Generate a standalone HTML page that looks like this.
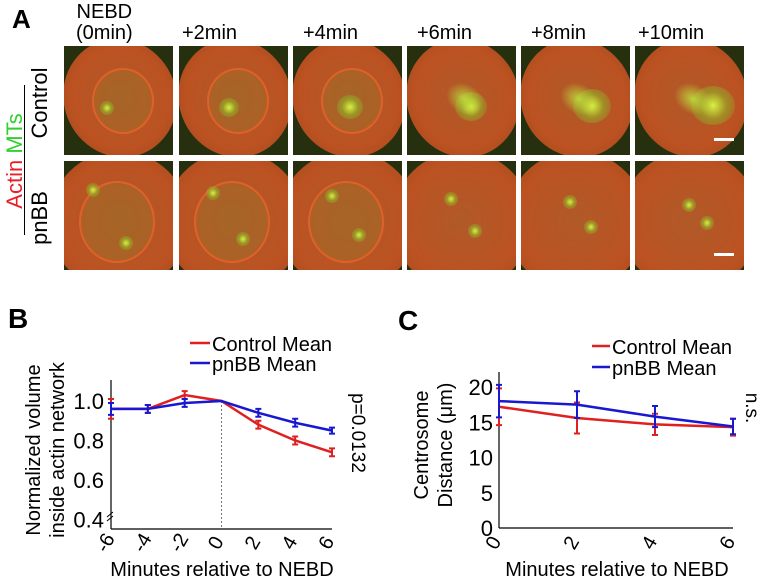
<!DOCTYPE html>
<html><head><meta charset="utf-8"><style>
body{margin:0;background:#fff;}
#root{position:relative;width:758px;height:581px;overflow:hidden;font-family:"Liberation Sans",sans-serif;background:#fff;}
.t{position:absolute;white-space:nowrap;color:#000;}
.tile{position:absolute;width:109px;height:109px;overflow:hidden;background:#26300e;}
.cell{position:absolute;border-radius:50%;background:radial-gradient(ellipse at 50% 50%,#b05a28 0%,#bc5222 60%,#a84a1c 85%,rgba(60,60,20,0) 100%);}
.nuc{position:absolute;border-radius:50%;border:2px solid #e0602a;background:rgba(150,120,40,0.35);}
.spot{position:absolute;width:14px;height:14px;border-radius:50%;background:radial-gradient(circle,#d8f040 0%,rgba(140,200,40,0.5) 45%,rgba(0,0,0,0) 100%);}
</style></head><body>
<div id="root">
<div class="t" style="left:12px;top:4px;font-size:26px;font-weight:bold;">A</div>
<div class="t" style="left:76px;top:2px;font-size:20px;text-align:center;line-height:21px;">NEBD<br>(0min)</div>
<div class="t" style="left:182px;top:22px;font-size:20px;">+2min</div>
<div class="t" style="left:303px;top:22px;font-size:20px;">+4min</div>
<div class="t" style="left:417px;top:22px;font-size:20px;">+6min</div>
<div class="t" style="left:531px;top:22px;font-size:20px;">+8min</div>
<div class="t" style="left:638px;top:22px;font-size:20px;">+10min</div>
<div class="t" style="left:-35px;top:148px;font-size:22px;transform:rotate(-90deg);transform-origin:center;width:100px;text-align:center;"><span style="color:#e8202a">Actin</span> <span style="color:#30d030">MTs</span></div>
<div style="position:absolute;left:24px;top:85px;width:1px;height:150px;background:#000;"></div>
<div class="t" style="left:0px;top:90px;font-size:22px;transform:rotate(-90deg);width:80px;text-align:center;">Control</div>
<div class="t" style="left:0px;top:205px;font-size:22px;transform:rotate(-90deg);width:80px;text-align:center;">pnBB</div>
<div id="tiles"></div>

<svg id="chartB" style="position:absolute;left:0;top:290px" width="380" height="291"></svg>
<svg id="chartC" style="position:absolute;left:380px;top:290px" width="378" height="291"></svg>
</div>
<script>
// ---- Panel A tiles
const colX=[64,179,293,407,521,635];
const rowY=[46,161];
const tiles=document.getElementById('tiles');
for(let r=0;r<2;r++)for(let c=0;c<6;c++){
  const d=document.createElement('div');
  d.className='tile';
  
  
  d.style.left=colX[c]+'px';d.style.top=rowY[r]+'px';
  let h='';
  if(r===0){
    h+='<div class="cell" style="left:0px;top:-8px;width:112px;height:120px;transform:rotate(-25deg)"></div>';
    if(c<3)h+='<div class="nuc" style="left:28px;top:22px;width:58px;height:62px"></div>';
    h+='<div class="spot" style="left:'+(36+c*4)+'px;top:'+(55-c*3)+'px;width:'+(14+c*6)+'px;height:'+(14+c*5)+'px"></div>';
    if(c>=3)h+='<div style="position:absolute;left:38px;top:38px;width:40px;height:30px;background:radial-gradient(ellipse,rgba(190,220,60,.9),rgba(0,0,0,0) 70%);transform:rotate(30deg)"></div>';
  }else{
    h+='<div class="cell" style="left:-15px;top:-10px;width:140px;height:140px;"></div>';
    if(c<3)h+='<div class="nuc" style="left:15px;top:20px;width:72px;height:78px"></div>';
    h+='<div class="spot" style="left:'+(22+c*5)+'px;top:'+(22+c*3)+'px"></div>';
    h+='<div class="spot" style="left:'+(55+c*2)+'px;top:'+(75-c*4)+'px"></div>';
  }
  if(c===5)h+='<div style="position:absolute;right:10px;bottom:14px;width:20px;height:3px;background:#fff"></div>';
  d.innerHTML=h;tiles.appendChild(d);
}

// ---- Chart B data
const bX=[-6,-4,-2,0,2,4,6];
const bCtrl=[0.96,0.96,1.03,1.0,0.88,0.80,0.74];
const bCtrlErr=[0.05,0.02,0.02,0.0,0.02,0.02,0.02];
const bPn=[0.96,0.96,0.99,1.0,0.94,0.89,0.85];
const bPnErr=[0.03,0.02,0.02,0.0,0.02,0.02,0.015];
const bYTicks=[0.4,0.6,0.8,1.0];
const bXTicks=[-6,-4,-2,0,2,4,6];
// ---- Chart C data
const cX=[0,2,4,6];
const cCtrl=[17.2,15.6,14.7,14.3];
const cCtrlErr=[2.6,2.2,1.5,1.2];
const cPn=[18.0,17.5,15.8,14.4];
const cPnErr=[2.3,1.9,1.5,1.1];
const cYTicks=[0,5,10,15,20];
const cXTicks=[0,2,4,6];

const NS='http://www.w3.org/2000/svg';
function el(svg,tag,attrs,text){const e=document.createElementNS(NS,tag);for(const k in attrs)e.setAttribute(k,attrs[k]);if(text!==undefined)e.textContent=text;svg.appendChild(e);return e;}
const F='Liberation Sans, sans-serif';

// Chart B
(function(){
  const svg=document.getElementById('chartB');
  const xs=v=>111+(v+6)*(332-111)/12;
  const ys=v=>111+(1.0-v)*(39.5/0.2);
  let t=el(svg,'text',{x:8,y:38,'font-size':28,'font-weight':'bold','font-family':F},'B');
  let a=el(svg,'line',{x1:111,y1:90,x2:111,y2:239,stroke:'#000','stroke-width':1.2});
  a=el(svg,'line',{x1:111,y1:239,x2:332,y2:239,stroke:'#000','stroke-width':1.2});
  a=el(svg,'line',{x1:xs(0),y1:111,x2:xs(0),y2:239,stroke:'#777','stroke-width':1,'stroke-dasharray':'2,2'});
  a=el(svg,'path',{d:'M107 227 L113 222 M107 231 L113 226',stroke:'#000','stroke-width':1,fill:'none'});
  bYTicks.forEach(v=>{const e=el(svg,'text',{x:104,y:ys(v)+8,'font-size':22,'text-anchor':'end','font-family':F},v.toFixed(1));});
  bXTicks.forEach(v=>{const e=el(svg,'text',{x:0,y:0,'font-size':20,'text-anchor':'middle','font-family':F,transform:'translate('+xs(v)+',256) rotate(-60)'},String(v));});
  t=el(svg,'text',{x:222,y:286,'font-size':20,'text-anchor':'middle','font-family':F},'Minutes relative to NEBD');
  t=el(svg,'text',{x:0,y:0,'font-size':20,'text-anchor':'middle','font-family':F,transform:'translate(40,160) rotate(-90)'},'Normalized volume');
  t=el(svg,'text',{x:0,y:0,'font-size':20,'text-anchor':'middle','font-family':F,transform:'translate(64,160) rotate(-90)'},'inside actin network');
  t=el(svg,'text',{x:0,y:0,'font-size':19,'text-anchor':'middle','font-family':F,transform:'translate(352,143) rotate(90)'},'p=0.0132');
  [[bCtrl,bCtrlErr,'#e02020','control'],[bPn,bPnErr,'#1818d0','pnbb']].forEach(([vals,errs,col,nm])=>{
    const p=el(svg,'polyline',{points:vals.map((v,i)=>xs(bX[i])+','+ys(v)).join(' '),fill:'none',stroke:col,'stroke-width':2.5});
    
    vals.forEach((v,i)=>{if(!errs[i])return;const x=xs(bX[i]);const g=el(svg,'path',{d:`M${x} ${ys(v-errs[i])} V${ys(v+errs[i])} M${x-3} ${ys(v-errs[i])} h6 M${x-3} ${ys(v+errs[i])} h6`,stroke:col,'stroke-width':2,fill:'none'});});
  });
  let l=el(svg,'line',{x1:190,y1:53,x2:210,y2:53,stroke:'#e02020','stroke-width':2.5});
  t=el(svg,'text',{x:212,y:61,'font-size':20,'font-family':F},'Control Mean');
  l=el(svg,'line',{x1:190,y1:73,x2:210,y2:73,stroke:'#1818d0','stroke-width':2.5});
  t=el(svg,'text',{x:212,y:81,'font-size':20,'font-family':F},'pnBB Mean');
})();

// Chart C
(function(){
  const svg=document.getElementById('chartC');
  const xs=v=>119+v*(353-119)/6;
  const ys=v=>238-v*(141/20);
  let t=el(svg,'text',{x:18,y:40,'font-size':28,'font-weight':'bold','font-family':F},'C');
  let a=el(svg,'line',{x1:119,y1:82,x2:119,y2:238,stroke:'#000','stroke-width':1.2});
  a=el(svg,'line',{x1:119,y1:238,x2:353,y2:238,stroke:'#000','stroke-width':1.2});
  cYTicks.forEach(v=>{const e=el(svg,'text',{x:113,y:ys(v)+8,'font-size':22,'text-anchor':'end','font-family':F},String(v));});
  cXTicks.forEach(v=>{const e=el(svg,'text',{x:0,y:0,'font-size':20,'text-anchor':'middle','font-family':F,transform:'translate('+xs(v)+',256) rotate(-60)'},String(v));});
  t=el(svg,'text',{x:237,y:286,'font-size':20,'text-anchor':'middle','font-family':F},'Minutes relative to NEBD');
  t=el(svg,'text',{x:0,y:0,'font-size':20,'text-anchor':'middle','font-family':F,transform:'translate(48,155) rotate(-90)'},'Centrosome');
  t=el(svg,'text',{x:0,y:0,'font-size':20,'text-anchor':'middle','font-family':F,transform:'translate(72,155) rotate(-90)'},'Distance (\u03bcm)');
  t=el(svg,'text',{x:0,y:0,'font-size':19,'text-anchor':'middle','font-family':F,transform:'translate(366,118) rotate(90)'},'n.s.');
  [[cCtrl,cCtrlErr,'#e02020','control'],[cPn,cPnErr,'#1818d0','pnbb']].forEach(([vals,errs,col,nm])=>{
    const p=el(svg,'polyline',{points:vals.map((v,i)=>xs(cX[i])+','+ys(v)).join(' '),fill:'none',stroke:col,'stroke-width':2.5});
    
    vals.forEach((v,i)=>{const x=xs(cX[i]);const g=el(svg,'path',{d:`M${x} ${ys(v-errs[i])} V${ys(v+errs[i])} M${x-3} ${ys(v-errs[i])} h6 M${x-3} ${ys(v+errs[i])} h6`,stroke:col,'stroke-width':2,fill:'none'});});
  });
  let l=el(svg,'line',{x1:212,y1:56,x2:230,y2:56,stroke:'#e02020','stroke-width':2.5});
  t=el(svg,'text',{x:232,y:64,'font-size':20,'font-family':F},'Control Mean');
  l=el(svg,'line',{x1:212,y1:77,x2:230,y2:77,stroke:'#1818d0','stroke-width':2.5});
  t=el(svg,'text',{x:232,y:85,'font-size':20,'font-family':F},'pnBB Mean');
})();
</script>
</body></html>
